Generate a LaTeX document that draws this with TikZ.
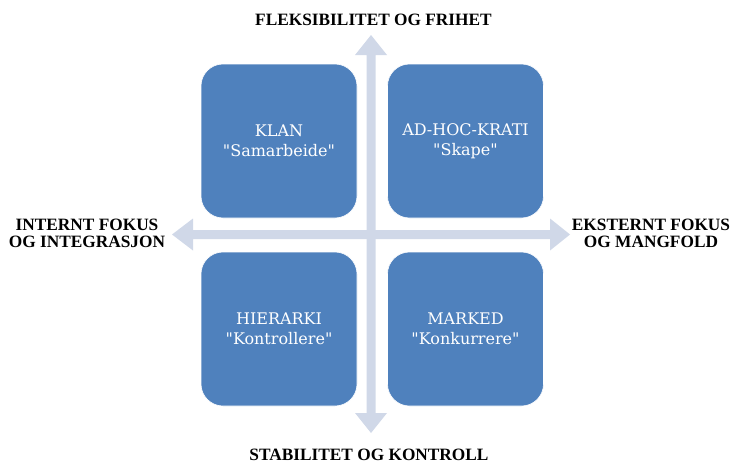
\documentclass[tikz,border=0pt]{standalone}
\usepackage{fontspec}
\setmainfont{Liberation Serif}
\newfontfamily\quadfont{DejaVu Serif}
\begin{document}
\begin{tikzpicture}[x=1pt,y=-1pt,
  quadrant/.style={fill=boxblue, draw=white, line width=0.6pt, rounded corners=22pt,
    minimum width=156pt, minimum height=154pt, inner sep=0pt, text=white,
    align=center, font=\quadfont\fontsize{16}{19.5}\selectfont},
  axislabel/.style={align=center, inner sep=0pt, text=black,
    font=\fontsize{17.3}{17}\selectfont\bfseries},
  axisarrow/.style={fill=axisgrey, draw=none}]
\definecolor{boxblue}{HTML}{4F81BD}
\definecolor{axisgrey}{HTML}{D0D8E8}
\useasboundingbox (0,0) rectangle (734,463);

% vertical axis (double arrow)
\fill[axisgrey] (371,35) -- (387,55) -- (375.5,55) -- (375.5,413) -- (387,413)
  -- (371,433) -- (355,413) -- (366.5,413) -- (366.5,55) -- (355,55) -- cycle;
% horizontal axis (double arrow)
\fill[axisgrey] (172,234.5) -- (193,218.5) -- (193,230) -- (550,230) -- (550,218.5)
  -- (570,234.5) -- (550,250.5) -- (550,239) -- (193,239) -- (193,250.5) -- cycle;

% the four quadrants
\node[quadrant] (klan)  at (279,141) {KLAN\\\textquotedbl Samarbeide\textquotedbl};
\node[quadrant] (adhoc) at (465.5,141) {AD-HOC-KRATI\\\textquotedbl Skape\textquotedbl};
\node[quadrant] (hier)  at (279,329) {HIERARKI\\\textquotedbl Kontrollere\textquotedbl};
\node[quadrant] (marked) at (465.5,329) {MARKED\\\textquotedbl Konkurrere\textquotedbl};

% axis labels
\node[axislabel, anchor=base] (top) at (373.5,25) {FLEKSIBILITET OG FRIHET};
\node[axislabel, anchor=base] (bottom) at (369,460) {STABILITET OG KONTROLL};
\node[axislabel, anchor=base] (left) at (87,247) {INTERNT FOKUS\\OG INTEGRASJON};
\node[axislabel, anchor=base] (right) at (651,247.5) {EKSTERNT FOKUS\\OG MANGFOLD};
\end{tikzpicture}
\end{document}
